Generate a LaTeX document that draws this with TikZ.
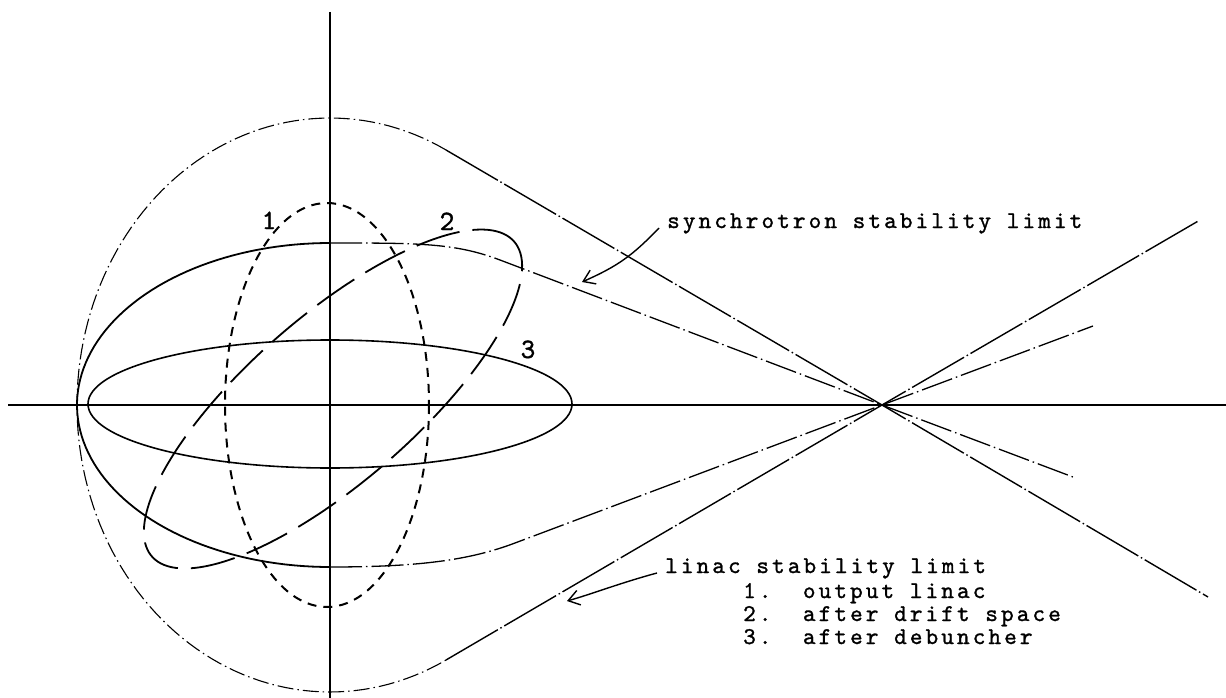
\documentclass[tikz,border=0pt]{standalone}
\usepackage{fontspec}
\usetikzlibrary{arrows.meta}
\newfontfamily\twfam[LetterSpace=13,FakeBold=1.2]{lmmono10-regular.otf}
\newfontfamily\twlfam[FakeBold=1.2]{lmmono10-regular.otf}
\newcommand\twfont{\twfam\fontsize{24}{26}\selectfont}
\newcommand\twbig{\twlfam\fontsize{28}{30}\selectfont}
\begin{document}
\begin{tikzpicture}[x=1pt,y=-1pt,
  axis/.style={line width=1.7pt},
  linacarc/.style={line width=1.1pt, dash pattern=on 16pt off 4pt on 1.5pt off 4pt},
  linacline/.style={line width=1.4pt, dash pattern=on 60pt off 3pt on 1.5pt off 3pt},
  synarc/.style={line width=1.8pt},
  synline/.style={line width=1.3pt, dash pattern=on 32pt off 4pt on 1.5pt off 4pt},
  emone/.style={line width=2pt, dash pattern=on 9pt off 7pt},
  emtwo/.style={line width=1.8pt, dash pattern=on 45pt off 13pt},
  emthree/.style={line width=1.6pt},
  tw/.style={font=\twfont, inner sep=0pt},
  twl/.style={font=\twbig, inner sep=0pt},
  arr/.style={line width=1.4pt, -{Straight Barb[length=11pt,width=15pt]}}
]
\useasboundingbox (0,0) rectangle (1226,698);
% axes
\coordinate (O) at (330,405);
\coordinate (X) at (882,405);
\coordinate (vtop) at (330,12);
\coordinate (vbot) at (330,698);
\coordinate (hl) at (8,405);
\coordinate (hr) at (1226,405);
\draw[axis] (vtop) -- (vbot);
\draw[axis] (hl) -- (hr);
% linac stability limit
\draw[linacarc] plot[domain=62.7:297.3, samples=120] ({330+253*cos(\x)}, {405-287*sin(\x)});
\draw[linacline] (446,150) -- (X) -- (1208,597);
\draw[linacline] (446,660) -- (X) -- (1200,220);
% synchrotron stability limit
\draw[synarc] plot[domain=90:270, samples=90] ({330+253*cos(\x)}, {405-162*sin(\x)});
\draw[synline] (330,243) .. controls (420,243) and (455,243) .. (500,260) -- (X) -- (1073,477);
\draw[synline] (330,567) .. controls (420,567) and (470,560) .. (515,543) -- (X) -- (1093,326);
% emittance 1, 2, 3
\draw[emone] (327,405) ellipse [x radius=102, y radius=202];
\draw[emtwo] plot[domain=0:360, samples=160, smooth]
  ({333 + 240*cos(\x)*cos(41) - 83*sin(\x)*sin(41)}, {399 - 240*cos(\x)*sin(41) - 83*sin(\x)*cos(41)}) -- cycle;
\draw[emthree] (330,404) ellipse [x radius=242, y radius=64];
% labels
\node[twl, anchor=base] (lab1) at (269,229) {1};
\node[twl, anchor=base] (lab2) at (447,230) {2};
\node[twl, anchor=base] (lab3) at (528,358) {3};
\node[tw, anchor=base west, inner xsep=8pt] (synchlbl) at (659,228) {synchrotron stability limit};
\node[tw, anchor=base west, inner xsep=8pt] (linaclbl) at (657,573) {linac stability limit};
\node[tw, anchor=base west] (leg1) at (743,598) {1.\ \ output linac};
\node[tw, anchor=base west] (leg2) at (743,621) {2.\ \ after drift space};
\node[tw, anchor=base west] (leg3) at (743,644) {3.\ \ after debuncher};
% arrows
\coordinate (sytip) at (582,282);
\coordinate (lntip) at (567,601);
\draw[arr] (synchlbl.base west) .. controls (632,256) and (618,266) .. (sytip);
\draw[arr] (linaclbl.base west) .. controls (620,583) and (592,594) .. (lntip);
\end{tikzpicture}
\end{document}
